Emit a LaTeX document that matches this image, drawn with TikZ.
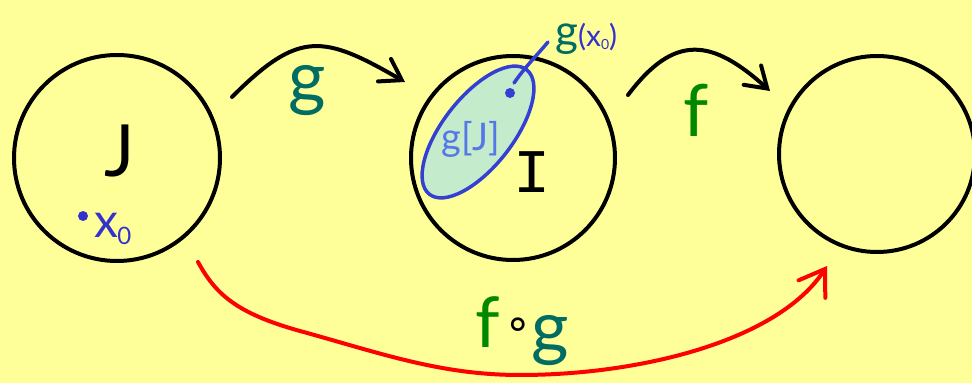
\documentclass[tikz,border=0pt]{standalone}
\usepackage{fontspec}
\setmainfont{Lato}
\newfontfamily\monoI{Liberation Mono}
\newfontfamily\symfont{DejaVu Sans}
\usetikzlibrary{arrows.meta,shapes.geometric}
\definecolor{bg}{RGB}{255,255,153}
\definecolor{tealg}{RGB}{0,108,98}
\definecolor{greenf}{RGB}{0,136,0}
\definecolor{bluex}{RGB}{51,51,204}
\definecolor{blobfill}{RGB}{196,235,204}
\definecolor{blobline}{RGB}{51,64,210}
\definecolor{lightblue}{RGB}{85,119,232}
\begin{document}
\begin{tikzpicture}[x=1pt,y=1pt,
  setc/.style={circle, draw=black, line width=4pt, inner sep=0pt},
  maparrow/.style={draw=black, line width=4pt, line cap=round,
     -{Straight Barb[length=20pt,width=26pt,line cap=round]}},
  comparrow/.style={draw=red, line width=4pt, line cap=round,
     -{Straight Barb[length=24pt,width=32pt,line cap=round]}},
  lab/.style={inner sep=0pt, anchor=center}]
\fill[bg] (0,0) rectangle (972,383);
\useasboundingbox (0,0) rectangle (972,383);

% sets
\node[setc, minimum size=206pt] (J) at (117,225) {};
\node[setc, minimum size=204pt] (I) at (513,225) {};
\node[setc, minimum size=196pt] (K) at (877,229) {};

% image blob
\node[ellipse, draw=blobline, fill=blobfill, line width=3.5pt, minimum width=158pt,
      minimum height=70pt, rotate=52, inner sep=0pt] (blob) at (478,251) {};

% labels in sets
\node[lab, font=\fontsize{72}{72}\selectfont] (Jl) at (120,232) {J};
\node[lab, font=\monoI\fontsize{62}{62}\selectfont] (Il) at (532,211) {I};
\node[lab, text=lightblue, font=\fontsize{38}{38}\selectfont] (gJ) at (471,244) {g[J]};

% point x0
\fill[bluex] (83,167) circle (5pt) coordinate (x0dot);
\node[lab, text=bluex, font=\fontsize{48}{48}\selectfont] (x0) at (113,154)
   {x\kern-1pt\raisebox{-7pt}{\fontsize{24}{24}\selectfont 0}};

% point g(x0)
\fill[blobline] (510,290) circle (5pt) coordinate (gxdot);
\coordinate (gxline) at (514,300);
\coordinate (gxend) at (548,341);
\draw[blobline, line width=3.5pt, line cap=round] (gxline) to[out=55,in=230] (gxend);
\node[lab, anchor=west] (gxl) at (555,344)
  {\textcolor{tealg}{\fontsize{44}{44}\selectfont g}\textcolor{bluex}{\fontsize{30}{30}\selectfont(x\raisebox{-3pt}{\fontsize{14}{14}\selectfont 0})}};

% map g
\coordinate (gs) at (232,286);
\coordinate (ge) at (405,301);
\draw[maparrow] (gs) to[out=45,in=150,looseness=1.4] (ge);
\node[lab, text=tealg, font=\fontsize{72}{72}\selectfont] (gl) at (307,292) {g};

% map f
\coordinate (fs) at (628,288);
\coordinate (fe) at (770,292);
\draw[maparrow] (fs) to[out=53,in=138,looseness=1.4] (fe);
\node[lab, text=greenf, font=\fontsize{72}{72}\selectfont] (fl) at (696,273) {f};

% composition
\coordinate (rs) at (198,121);
\coordinate (re) at (827,117);
\draw[comparrow] (rs) .. controls (215,90) and (235,70) .. (300,52)
   .. controls (380,30) and (440,8) .. (520,8)
   .. controls (640,8) and (778,42) .. (re);
\node[lab, text=greenf, font=\fontsize{70}{70}\selectfont] (fogf) at (488,61) {f};
\node[lab, font=\symfont\fontsize{44}{44}\selectfont] (fogo) at (518,55) {∘};
\node[lab, text=tealg, font=\fontsize{72}{72}\selectfont] (fogg) at (550,42) {g};
\end{tikzpicture}
\end{document}
